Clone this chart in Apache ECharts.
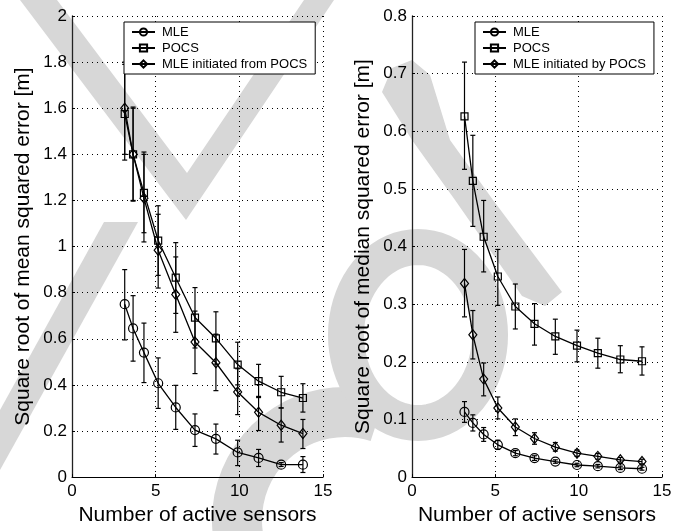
<!DOCTYPE html>
<html>
<head>
<meta charset="utf-8">
<script src="https://cdn.jsdelivr.net/npm/echarts@6/dist/echarts.min.js"></script>
<style>
  html, body { margin: 0; padding: 0; background: #fff; }
</style>
</head>
<body>
<div id="main" style="width: 694px; height: 531px;"></div>
<script type="text/javascript">
// number of active sensors (shared by both panels)
var sensors = [3.15, 3.65, 4.3, 5.15, 6.2, 7.35, 8.6, 9.9, 11.15, 12.5, 13.8];

// left panel: root of mean squared error [m]
var meanMLE     = [0.75, 0.645, 0.54, 0.407, 0.302, 0.204, 0.166, 0.107, 0.083, 0.054, 0.054];
var meanMLELo   = [0.595, 0.503, 0.41, 0.298, 0.207, 0.133, 0.10, 0.05, 0.046, 0.046, 0.02];
var meanMLEHi   = [0.90, 0.787, 0.668, 0.517, 0.398, 0.274, 0.23, 0.16, 0.12, 0.063, 0.089];
var meanPOCS    = [1.575, 1.40, 1.233, 1.026, 0.865, 0.692, 0.602, 0.488, 0.416, 0.368, 0.343];
var meanPOCSLo  = [1.375, 1.197, 1.06, 0.875, 0.71, 0.56, 0.49, 0.40, 0.345, 0.30, 0.282];
var meanPOCSHi  = [1.79, 1.605, 1.41, 1.177, 1.017, 0.822, 0.717, 0.585, 0.489, 0.437, 0.405];
var meanInit    = [1.60, 1.40, 1.21, 0.984, 0.792, 0.586, 0.496, 0.369, 0.281, 0.225, 0.189];
var meanInitLo  = [1.40, 1.20, 1.02, 0.82, 0.628, 0.449, 0.375, 0.271, 0.202, 0.152, 0.124];
var meanInitHi  = [1.80, 1.60, 1.40, 1.14, 0.955, 0.72, 0.62, 0.47, 0.35, 0.30, 0.25];

// right panel: root of median squared error [m]
var medMLE      = [0.113, 0.094, 0.074, 0.056, 0.0415, 0.033, 0.027, 0.021, 0.019, 0.016, 0.0145];
var medMLELo    = [0.095, 0.08, 0.062, 0.048, 0.037, 0.029, 0.024, 0.018, 0.016, 0.013, 0.012];
var medMLEHi    = [0.131, 0.108, 0.086, 0.064, 0.046, 0.037, 0.030, 0.024, 0.022, 0.019, 0.017];
var medPOCS     = [0.626, 0.514, 0.417, 0.348, 0.296, 0.266, 0.244, 0.228, 0.215, 0.204, 0.201];
var medPOCSLo   = [0.534, 0.435, 0.356, 0.298, 0.257, 0.229, 0.213, 0.20, 0.189, 0.181, 0.177];
var medPOCSHi   = [0.72, 0.593, 0.48, 0.395, 0.335, 0.301, 0.274, 0.255, 0.241, 0.228, 0.226];
var medInit     = [0.336, 0.247, 0.17, 0.12, 0.087, 0.067, 0.052, 0.0415, 0.036, 0.030, 0.027];
var medInitLo   = [0.278, 0.205, 0.141, 0.101, 0.072, 0.057, 0.045, 0.036, 0.031, 0.026, 0.023];
var medInitHi   = [0.395, 0.289, 0.198, 0.139, 0.101, 0.077, 0.060, 0.047, 0.041, 0.034, 0.031];

var FONT = '"Liberation Sans", Arial, Helvetica, sans-serif';
var GREY = '#d7d7d7';

var myChart = echarts.init(document.getElementById('main'));

function pairs(ys) {
    return sensors.map(function (x, i) { return [x, ys[i]]; });
}
function bars(lo, hi) {
    return sensors.map(function (x, i) { return [x, lo[i], hi[i]]; });
}

// vertical error bar with small caps
function renderErr(params, api) {
    var top = api.coord([api.value(0), api.value(2)]);
    var bot = api.coord([api.value(0), api.value(1)]);
    var w = 2.5;
    var st = { stroke: '#000', lineWidth: 1.2 };
    return {
        type: 'group',
        children: [
            { type: 'line', shape: { x1: top[0], y1: top[1], x2: bot[0], y2: bot[1] }, style: st },
            { type: 'line', shape: { x1: top[0] - w, y1: top[1], x2: top[0] + w, y2: top[1] }, style: st },
            { type: 'line', shape: { x1: bot[0] - w, y1: bot[1], x2: bot[0] + w, y2: bot[1] }, style: st }
        ]
    };
}

function lineSeries(name, data, symbol, size, idx) {
    return {
        name: name,
        type: 'line',
        xAxisIndex: idx,
        yAxisIndex: idx,
        data: data,
        symbol: symbol,
        symbolSize: size,
        showAllSymbol: true,
        color: '#000',
        lineStyle: { color: '#000', width: 1.3 },
        itemStyle: { color: 'rgba(0,0,0,0)', borderColor: '#000', borderWidth: 1.2 },
        emphasis: { disabled: true },
        animation: false,
        z: 3
    };
}

function errSeries(name, data, idx) {
    return {
        name: name,
        type: 'custom',
        xAxisIndex: idx,
        yAxisIndex: idx,
        data: data,
        encode: { x: 0, y: [1, 2] },
        renderItem: renderErr,
        animation: false,
        z: 2
    };
}

function xAx(idx) {
    return {
        gridIndex: idx,
        type: 'value',
        min: 0, max: 15, interval: 5,
        name: 'Number of active sensors',
        nameLocation: 'middle',
        nameGap: 25,
        nameTextStyle: { fontFamily: FONT, fontSize: 21, color: '#000' },
        axisLine: { lineStyle: { color: '#000', width: 1 } },
        axisTick: { inside: true, length: 3, lineStyle: { color: '#000' } },
        axisLabel: { fontFamily: FONT, fontSize: 17, color: '#000', margin: 6 },
        splitLine: { show: true, lineStyle: { color: '#000', width: 1, type: [1, 4] } }
    };
}

function yAx(idx, max, step, title) {
    return {
        gridIndex: idx,
        type: 'value',
        min: 0, max: max, interval: step,
        name: title,
        nameLocation: 'middle',
        nameGap: 38,
        nameTextStyle: { fontFamily: FONT, fontSize: 21, color: '#000' },
        axisLine: { show: true, lineStyle: { color: '#222', width: 1.3 } },
        axisTick: { show: true, inside: true, length: 3, lineStyle: { color: '#000' } },
        axisLabel: { fontFamily: FONT, fontSize: 17, color: '#000', margin: 5 },
        splitLine: { show: true, lineStyle: { color: '#000', width: 1, type: [1, 4] } }
    };
}

function legendBox(left, width, names) {
    return {
        data: names,
        orient: 'vertical',
        left: left,
        top: 22,
        width: width,
        padding: [3, 8, 3, 7],
        itemGap: 2,
        itemWidth: 23,
        itemHeight: 9,
        backgroundColor: '#fff',
        borderColor: '#000',
        borderWidth: 1,
        selectedMode: false,
        textStyle: { fontFamily: FONT, fontSize: 13, color: '#000', padding: [0, 0, 0, 2], lineHeight: 14 },
        z: 10
    };
}

// outline of an upright ellipse, used for the watermark ring
function ellipsePts(cx, cy, rx, ry) {
    var pts = [];
    for (var k = 0; k < 72; k++) {
        var a = k / 72 * Math.PI * 2;
        pts.push([cx + rx * Math.cos(a), cy + ry * Math.sin(a)]);
    }
    return pts;
}

// light grey watermark strokes behind the plots
var watermark = [
    { type: 'polygon', z: -10, shape: { points: [[20, 0], [186, 220], [334, 0], [304, 0], [187, 173], [57, 0]] }, style: { fill: GREY } },
    { type: 'polygon', z: -10, shape: { points: [[104, 222], [138, 222], [0, 470], [0, 410]] }, style: { fill: GREY } },
    { type: 'polygon', z: -10, shape: { points: [[382, 92], [392, 68], [412, 60], [430, 75], [450, 140], [493, 200], [562, 292], [545, 306], [522, 296], [455, 200], [412, 140]] }, style: { fill: GREY } },
    { type: 'arc', z: -10, shape: { cx: 345, cy: 520, r: 108, startAngle: Math.PI * 0.94, endAngle: Math.PI * 1.6 }, style: { stroke: GREY, fill: null, lineWidth: 50 } },
    { type: 'polygon', z: -10, shape: { points: ellipsePts(418, 335, 72, 88) }, style: { stroke: GREY, fill: null, lineWidth: 36 } }
];

var option = {
    backgroundColor: '#fff',
    animation: false,
    graphic: watermark,
    grid: [
        { left: 72, top: 16, width: 251, height: 467 },
        { left: 412, top: 16, width: 250, height: 467 }
    ],
    legend: [
        legendBox(124, 193, ['MLE', 'POCS', 'MLE initiated from POCS']),
        legendBox(475, 185, ['MLE', 'POCS', 'MLE initiated by POCS'])
    ],
    xAxis: [xAx(0), xAx(1)],
    yAxis: [
        yAx(0, 2, 0.2, 'Square root of mean squared error [m]'),
        yAx(1, 0.8, 0.1, 'Square root of median squared error [m]')
    ],
    series: [
        errSeries('e1', bars(meanMLELo, meanMLEHi), 0),
        errSeries('e2', bars(meanPOCSLo, meanPOCSHi), 0),
        errSeries('e3', bars(meanInitLo, meanInitHi), 0),
        lineSeries('MLE', pairs(meanMLE), 'circle', 9, 0),
        lineSeries('POCS', pairs(meanPOCS), 'rect', 7, 0),
        lineSeries('MLE initiated from POCS', pairs(meanInit), 'diamond', [8, 10], 0),
        errSeries('e4', bars(medMLELo, medMLEHi), 1),
        errSeries('e5', bars(medPOCSLo, medPOCSHi), 1),
        errSeries('e6', bars(medInitLo, medInitHi), 1),
        lineSeries('MLE', pairs(medMLE), 'circle', 9, 1),
        lineSeries('POCS', pairs(medPOCS), 'rect', 7, 1),
        lineSeries('MLE initiated by POCS', pairs(medInit), 'diamond', [8, 10], 1)
    ]
};

myChart.setOption(option);
</script>
</body>
</html>
